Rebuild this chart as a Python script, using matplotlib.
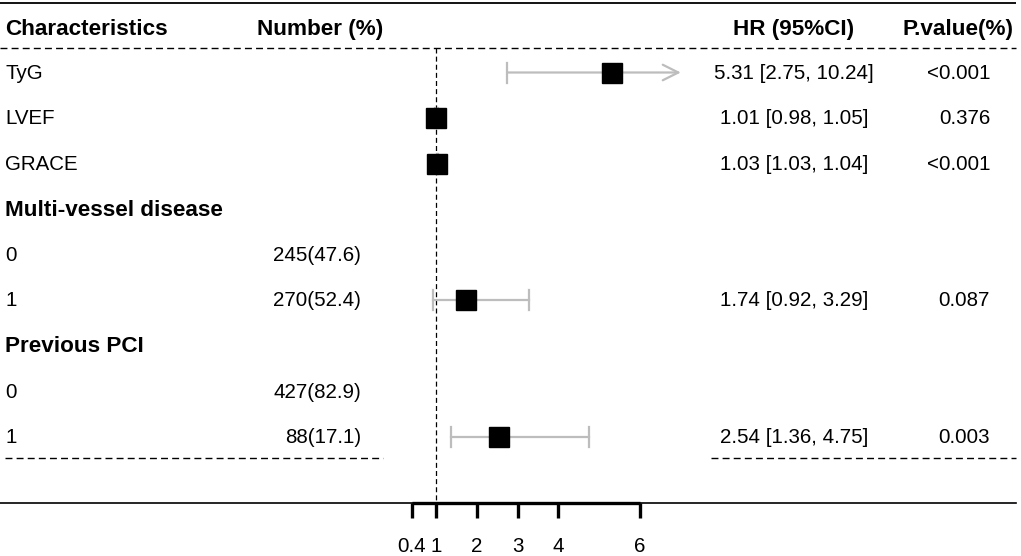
import numpy as np
import matplotlib
matplotlib.use("Agg")
import matplotlib.pyplot as plt

plt.rcParams['font.family'] = ['Liberation Sans', 'DejaVu Sans']

# data
labels = ['TyG', 'LVEF', 'GRACE', 'Multi-vessel disease', '0', '1',
          'Previous PCI', '0', '1']
bold_rows = [3, 6]
numbers = ['', '', '', '', '245(47.6)', '270(52.4)', '', '427(82.9)', '88(17.1)']
hr = [5.31, 1.01, 1.03, np.nan, np.nan, 1.74, np.nan, np.nan, 2.54]
lo = [2.75, 0.98, 1.03, np.nan, np.nan, 0.92, np.nan, np.nan, 1.36]
hi = [10.24, 1.05, 1.04, np.nan, np.nan, 3.29, np.nan, np.nan, 4.75]
hr_text = ['5.31 [2.75, 10.24]', '1.01 [0.98, 1.05]', '1.03 [1.03, 1.04]', '', '',
           '1.74 [0.92, 3.29]', '', '', '2.54 [1.36, 4.75]']
p_text = ['<0.001', '0.376', '<0.001', '', '', '0.087', '', '', '0.003']
ticks = [0.4, 1, 2, 3, 4, 6]
tick_labels = ['0.4', '1', '2', '3', '4', '6']
clip_hi = 7.0
ref = 1

W, H = 1021, 556
fig = plt.figure(figsize=(W / 100, H / 100), dpi=100)
ax = fig.add_axes([0, 0, 1, 1])
ax.set_axis_off()

# x scale: value 1 at pixel 436, 40.8 px per unit
px_unit = 40.8
x0 = 436
ax.set_xlim(1 - x0 / px_unit, 1 + (W - x0) / px_unit)
ax.set_ylim(H, 0)

def px(p):
    return 1 + (p - x0) / px_unit

row_y = 72.5 + 45.5 * np.arange(len(labels))
base_off = 6.5   # text baseline below row centre
head_base = 35
fs = 14.8
fsb = 16.2

# header
hkw = dict(fontsize=fsb, fontweight='bold', va='baseline')
ax.text(px(5), head_base, 'Characteristics', ha='left', **hkw)
ax.text(px(257), head_base, 'Number (%)', ha='left', **hkw)
ax.text(px(794), head_base, 'HR (95%CI)', ha='center', **hkw)
ax.text(px(1013), head_base, 'P.value(%)', ha='right', **hkw)

# horizontal rules
ax.plot([px(0), px(1016)], [3, 3], color='black', lw=1.3, solid_capstyle='butt')
ax.plot([px(0), px(1016)], [48, 48], color='black', lw=1.0, dashes=(5, 3))
ax.plot([px(5), px(383)], [458, 458], color='black', lw=1.0, dashes=(5, 3))
ax.plot([px(711), px(1016)], [458, 458], color='black', lw=1.0, dashes=(5, 3))
ax.plot([px(0), px(1016)], [503, 503], color='black', lw=1.2)

# reference line
ax.plot([ref, ref], [48, 503], color='black', lw=0.9, dashes=(4, 2.5))

# rows
for i, y in enumerate(row_y):
    bold = i in bold_rows
    yb = y + base_off
    ax.text(px(5), yb, labels[i], fontsize=fsb if bold else fs,
            fontweight='bold' if bold else 'normal', va='baseline', ha='left')
    if numbers[i]:
        ax.text(px(361), yb, numbers[i], fontsize=fs, va='baseline', ha='right')
    if hr_text[i]:
        ax.text(px(794), yb, hr_text[i], fontsize=fs, va='baseline', ha='center')
        ax.text(px(990), yb, p_text[i], fontsize=fs, va='baseline', ha='right')
    if np.isnan(hr[i]):
        continue
    grey = '#BDBDBD'
    if hi[i] > clip_hi:
        ax.annotate('', xy=(clip_hi, y), xytext=(lo[i], y),
                    arrowprops=dict(arrowstyle='->', color=grey, lw=1.6,
                                    mutation_scale=28, shrinkA=0, shrinkB=0))
        ax.plot([lo[i], lo[i]], [y - 10, y + 10], color=grey, lw=1.6)
    else:
        ax.plot([lo[i], hi[i]], [y, y], color=grey, lw=1.6)
        for c in (lo[i], hi[i]):
            ax.plot([c, c], [y - 10, y + 10], color=grey, lw=1.6)
    ax.plot(hr[i], y, marker='s', color='black', markersize=14, zorder=5)

# x axis
ax.plot([ticks[0], ticks[-1]], [503, 503], color='black', lw=2.4, solid_capstyle='butt')
for t, tl in zip(ticks, tick_labels):
    ax.plot([t, t], [503, 518], color='black', lw=2.4, solid_capstyle='butt')
    ax.text(t, 552, tl, fontsize=fs, va='baseline', ha='center')

fig.savefig('out.png', dpi=100)
